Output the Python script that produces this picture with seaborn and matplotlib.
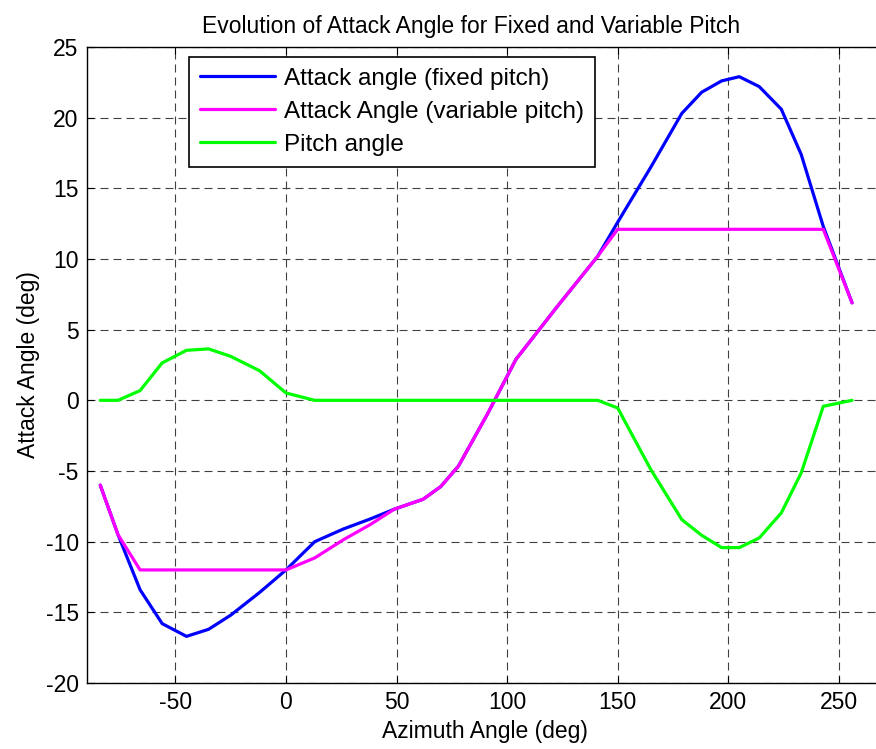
import matplotlib
matplotlib.use("Agg")
import matplotlib.pyplot as plt
import seaborn as sns
import pandas as pd

azimuth = [-84, -76, -66, -56, -45, -35, -25, -12, 0, 13, 26, 38, 49, 62, 70, 78, 91, 104,
           123, 141, 150, 165, 179, 188, 197, 205, 214, 224, 233, 243, 256]
attack_fixed = [-6.0, -9.5, -13.4, -15.8, -16.7, -16.2, -15.2, -13.6, -12.0, -10.0, -9.1, -8.4,
                -7.7, -7.0, -6.1, -4.65, -1.0, 2.9, 6.7, 10.2, 12.6, 16.5, 20.3, 21.8, 22.6,
                22.9, 22.2, 20.6, 17.4, 12.3, 6.9]
attack_variable = [-6.0, -9.5, -12.0, -12.0, -12.0, -12.0, -12.0, -12.0, -12.0, -11.15, -9.86,
                   -8.8, -7.7, -7.0, -6.1, -4.65, -1.0, 2.9, 6.7, 10.2, 12.1, 12.1, 12.1, 12.1,
                   12.1, 12.1, 12.1, 12.1, 12.1, 12.1, 6.9]
pitch = [0.0, 0.0, 0.69, 2.65, 3.54, 3.64, 3.11, 2.1, 0.52, 0.0, 0.0, 0.0, 0.0, 0.0, 0.0, 0.0,
         0.0, 0.0, 0.0, 0.0, -0.54, -4.9, -8.44, -9.55, -10.42, -10.42, -9.74, -7.97, -5.14,
         -0.42, 0.0]

labels = ["Attack angle (fixed pitch)", "Attack Angle (variable pitch)", "Pitch angle"]
colors = ["#0000ff", "#ff00ff", "#00ff00"]
xticks = [-50, 0, 50, 100, 150, 200, 250]
yticks = [-20, -15, -10, -5, 0, 5, 10, 15, 20, 25]

sns.set_style("white")
plt.rcParams["font.family"] = ["Liberation Sans", "DejaVu Sans"]
plt.rcParams["text.color"] = "black"
plt.rcParams["axes.labelcolor"] = "black"
FS = 16.5

fig = plt.figure(figsize=(8.76, 7.49), dpi=100)
W, H = 876, 749
x0, x1, ytop, ybot = 87, 883, 47, 683
ax = fig.add_axes([x0 / W, (H - ybot) / H, (x1 - x0) / W, (ybot - ytop) / H])

for ys, lab, col in zip([attack_fixed, attack_variable, pitch], labels, colors):
    df = pd.DataFrame({"x": azimuth, "y": ys})
    sns.lineplot(data=df, x="x", y="y", ax=ax, color=col, linewidth=2.3, label=lab,
                 sort=False, estimator=None)

ax.set_xlim(-90, 270)
ax.set_ylim(-20, 25)
ax.set_xticks(xticks)
ax.set_yticks(yticks)
ax.set_xticklabels([str(t) for t in xticks], fontsize=FS)
ax.set_yticklabels([str(t) for t in yticks], fontsize=FS)
ax.tick_params(direction="in", length=5, width=0.8, top=True, right=True,
               bottom=True, left=True, colors="black", pad=6)
ax.grid(True, color="0.25", linestyle=(0, (7.2, 4.5)), linewidth=0.8)
for s in ax.spines.values():
    s.set_color("black")
    s.set_linewidth(1.0)

ax.set_xlabel("Azimuth Angle (deg)", fontsize=FS, labelpad=4, color="black")
ax.set_ylabel("Attack Angle (deg)", fontsize=FS, labelpad=4, color="black")
ax.set_title("Evolution of Attack Angle for Fixed and Variable Pitch", fontsize=FS, pad=10,
             x=(471 - x0) / (x1 - x0), color="black")

leg = ax.legend(loc="upper left", bbox_to_anchor=((189 - x0) / (x1 - x0), 1 - 10 / (ybot - ytop)),
                prop={"size": 17.5}, handlelength=3.1, handletextpad=0.35, labelspacing=0.45,
                borderpad=0.45, borderaxespad=0, fancybox=False, framealpha=1)
leg.get_frame().set_edgecolor("black")
leg.get_frame().set_linewidth(1.2)
for t in leg.get_texts():
    t.set_color("black")

fig.savefig("out.png", dpi=100)
